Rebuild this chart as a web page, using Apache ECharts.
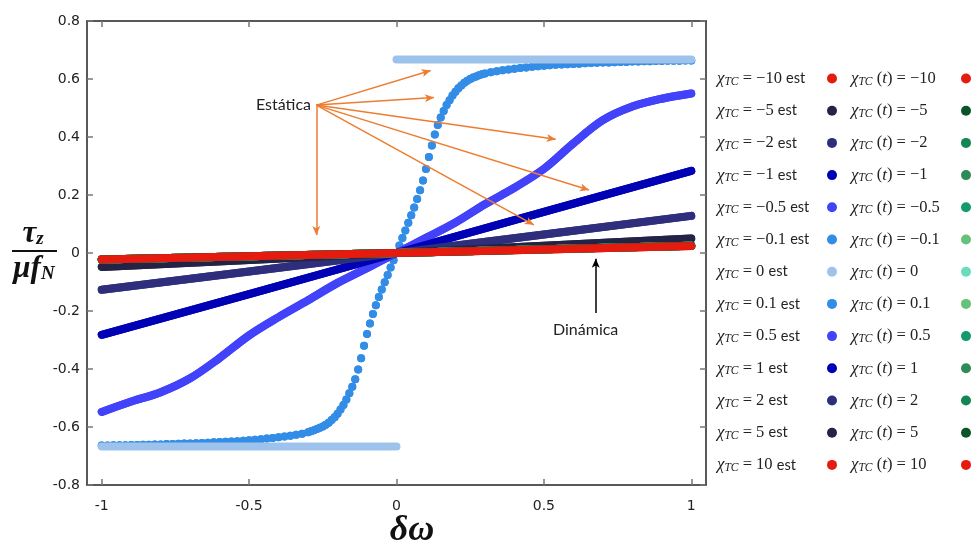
<!DOCTYPE html>
<html>
<head>
<meta charset="utf-8">
<script src="https://cdn.jsdelivr.net/npm/echarts@6/dist/echarts.min.js"></script>
<style>html,body{margin:0;padding:0;background:#fff}#c{width:977px;height:544px}</style>
</head>
<body>
<div id="c"></div>
<script>
// ---- categories / labels ----
const chiLabels = ['−10','−5','−2','−1','−0.5','−0.1','0','0.1','0.5','1','2','5','10'];
const xTicks = [-1, -0.5, 0, 0.5, 1];
const xTickLabels = ['-1', '-0.5', '0', '0.5', '1'];

// ---- chi = ±0.1 (static), dotted curve ----
const x01 = [-1.00,-0.98,-0.96,-0.94,-0.92,-0.90,-0.88,-0.86,-0.84,-0.82,-0.80,-0.78,-0.76,-0.74,-0.72,-0.70,-0.68,-0.66,-0.64,-0.62,-0.60,-0.58,-0.56,-0.54,-0.52,-0.50,-0.48,-0.46,-0.44,-0.42,-0.40,-0.38,-0.36,-0.34,-0.32,
 -0.30,-0.29,-0.28,-0.27,-0.26,-0.25,-0.24,-0.23,-0.22,-0.21,-0.20,-0.19,-0.18,-0.17,-0.16,-0.15,-0.14,-0.13,-0.12,-0.11,-0.10,-0.09,-0.08,-0.07,-0.06,-0.05,-0.04,-0.03,-0.02,-0.01,
 0.00,0.01,0.02,0.03,0.04,0.05,0.06,0.07,0.08,0.09,0.10,0.11,0.12,0.13,0.14,0.15,0.16,0.17,0.18,0.19,0.20,0.21,0.22,0.23,0.24,0.25,0.26,0.27,0.28,0.29,0.30,
 0.32,0.34,0.36,0.38,0.40,0.42,0.44,0.46,0.48,0.50,0.52,0.54,0.56,0.58,0.60,0.62,0.64,0.66,0.68,0.70,0.72,0.74,0.76,0.78,0.80,0.82,0.84,0.86,0.88,0.90,0.92,0.94,0.96,0.98,1.00];
const y01 = [-0.664,-0.664,-0.663,-0.663,-0.663,-0.662,-0.662,-0.661,-0.661,-0.660,-0.660,-0.659,-0.659,-0.658,-0.657,-0.657,-0.656,-0.655,-0.654,-0.653,-0.652,-0.651,-0.650,-0.649,-0.647,-0.646,-0.644,-0.642,-0.640,-0.638,-0.635,-0.633,-0.630,-0.627,-0.623,
 -0.618,-0.615,-0.611,-0.607,-0.603,-0.598,-0.592,-0.585,-0.576,-0.566,-0.554,-0.540,-0.524,-0.505,-0.484,-0.461,-0.435,-0.402,-0.363,-0.320,-0.279,-0.243,-0.210,-0.180,-0.152,-0.126,-0.101,-0.076,-0.050,-0.025,
 0.000,0.026,0.052,0.078,0.104,0.130,0.157,0.186,0.216,0.250,0.290,0.331,0.371,0.409,0.441,0.467,0.490,0.510,0.527,0.543,0.556,0.568,0.578,0.587,0.594,0.600,0.605,0.609,0.613,0.616,0.619,
 0.623,0.627,0.630,0.633,0.635,0.638,0.640,0.642,0.644,0.646,0.647,0.649,0.650,0.651,0.652,0.653,0.654,0.655,0.656,0.657,0.657,0.658,0.659,0.659,0.660,0.660,0.661,0.661,0.662,0.662,0.663,0.663,0.663,0.664,0.664];

// ---- chi = 0 (static) step ----
const x00 = [-1, 0, null, 0, 1];
const y00 = [-0.667, -0.667, null, 0.667, 0.667];

// ---- chi = ±0.5 (static) ----
const x05 = [-1,-0.9,-0.8,-0.7,-0.6,-0.5,-0.4,-0.3,-0.2,-0.1,0,0.1,0.2,0.3,0.4,0.5,0.6,0.7,0.8,0.9,1];
const y05 = [-0.548,-0.512,-0.480,-0.432,-0.362,-0.284,-0.221,-0.163,-0.103,-0.052,0,0.052,0.105,0.168,0.225,0.290,0.378,0.458,0.505,0.532,0.550];

// ---- chi = ±1, ±2, ±5, ±10 (static), dynamic ----
const xLin = [-1, -0.5, 0, 0.5, 1];
const y1 = [-0.282, -0.142, 0, 0.142, 0.283];
const y2 = [-0.127, -0.064, 0, 0.064, 0.128];
const y5 = [-0.048, -0.024, 0, 0.025, 0.050];
const y10 = [-0.022, -0.011, 0, 0.012, 0.024];
const yDyn = [-0.022, -0.011, 0.000, 0.013, 0.025];

const estColors = ['#e61b10','#232347','#2e2e7c','#0000b4','#4242fa','#338de6','#9dc3ec','#338de6','#4242fa','#0000b4','#2e2e7c','#232347','#e61b10'];
const dynColors = ['#e61b10','#0b5428','#138653','#2e8b57','#139a6e','#66c17a','#6adbbd','#66c17a','#139a6e','#2e8b57','#138653','#0b5428','#e61b10'];

const estX = [xLin, xLin, xLin, xLin, x05, x01, x00, x01, x05, xLin, xLin, xLin, xLin];
const estY = [y10, y5, y2, y1, y05, y01, y00, y01, y05, y1, y2, y5, y10];

function pairs(xs, ys) { return xs.map((x, i) => (x === null ? ['-', '-'] : [x, ys[i]])); }

const estNames = chiLabels.map(v => 'χTC = ' + v + ' est');
const dynNames = chiLabels.map(v => 'χTC (t) = ' + v);

const series = [];
estNames.forEach((n, i) => {
  const isDots = estX[i] === x01;
  if (isDots) {
    series.push({ name: n, type: 'scatter', symbol: 'circle', symbolSize: 8, data: pairs(estX[i], estY[i]),
      itemStyle: { color: estColors[i], opacity: 1 }, silent: true });
  } else {
    series.push({ name: n, type: 'line', showSymbol: false, symbol: 'circle', symbolSize: 8,
      smooth: estX[i] === x05 ? 0.35 : false, connectNulls: false,
      data: pairs(estX[i], estY[i]), color: estColors[i],
      lineStyle: { width: 8, cap: 'round', join: 'round', color: estColors[i] },
      itemStyle: { color: estColors[i] }, silent: true });
  }
});
dynNames.forEach((n, i) => {
  series.push({ name: n, type: 'line', showSymbol: false, symbol: 'circle', symbolSize: 8,
    data: pairs(xLin, i === 12 ? y10 : yDyn), color: dynColors[i],
    lineStyle: { width: 8, cap: 'round', join: 'round', color: dynColors[i] },
    itemStyle: { color: dynColors[i] }, silent: true });
});

// annotation arrows (data coordinates)
const arrowFrom = [-0.272, 0.510];
const arrowTo = [[0.116, 0.629], [0.127, 0.536], [0.540, 0.392], [0.653, 0.217], [0.466, 0.097], [-0.272, 0.062]];
const mlData = arrowTo.map(t => [{ coord: arrowFrom }, { coord: t }]);
mlData.push([{ coord: [0.676, -0.207], lineStyle: { color: '#000', width: 1.5 } }, { coord: [0.676, -0.020] }]);
series.push({ name: '__ann', type: 'line', data: [], silent: true,
  markLine: { silent: true, animation: false, symbol: ['none', 'arrow'], symbolSize: [6, 9],
    label: { show: false }, emphasis: { disabled: true },
    lineStyle: { color: '#ed7d31', width: 1.5, type: 'solid' }, data: mlData } });

const serif = '"Liberation Serif", "DejaVu Serif", serif';
const richEst = {
  c: { align: 'left', fontFamily: serif, fontStyle: 'italic', fontSize: 17, lineHeight: 18, color: '#222' },
  s: { align: 'left', fontFamily: serif, fontStyle: 'italic', fontSize: 11.5, lineHeight: 10, verticalAlign: 'bottom', color: '#222' },
  m: { align: 'left', fontFamily: serif, fontSize: 16.5, lineHeight: 18, color: '#222' },
  e: { align: 'left', fontFamily: 'Lato, "Open Sans", sans-serif', fontSize: 14.5, lineHeight: 18, color: '#222' }
};

const commonLegend = {
  orient: 'vertical', align: 'right', icon: 'circle', itemWidth: 10, itemHeight: 10,
  itemGap: 14.7, padding: 0, selectedMode: false, top: 70,
  textStyle: { width: 105, rich: richEst }
};

const option = {
  animation: false,
  backgroundColor: '#fff',
  grid: { left: 87, right: 271, top: 21, bottom: 59, containLabel: false },
  legend: [
    Object.assign({}, commonLegend, { left: 717, data: estNames,
      formatter: n => '{c|χ}{s|TC}{m| = ' + n.replace('χTC = ', '').replace(' est', '') + ' }{e|est}' }),
    Object.assign({}, commonLegend, { left: 851, data: dynNames,
      formatter: n => '{c|χ}{s|TC}{m| (}{c|t}{m|) = ' + n.replace('χTC (t) = ', '') + '}' })
  ],
  xAxis: [
    { type: 'value', min: -1.05, max: 1.05, position: 'bottom',
      axisLine: { onZero: false, lineStyle: { color: '#222', width: 1.5 } },
      axisTick: { inside: true, length: 6, customValues: xTicks, lineStyle: { color: '#777', width: 1.5 } },
      axisLabel: { customValues: xTicks, margin: 14, color: '#222', fontFamily: '"DejaVu Sans", sans-serif', fontSize: 14,
        formatter: v => xTickLabels[xTicks.findIndex(t => Math.abs(t - v) < 1e-9)] },
      splitLine: { show: false } },
    { type: 'value', min: -1.05, max: 1.05, position: 'top',
      axisLine: { onZero: false, lineStyle: { color: '#222', width: 1.5 } },
      axisTick: { inside: true, length: 6, customValues: xTicks, lineStyle: { color: '#777', width: 1.5 } },
      axisLabel: { show: false }, splitLine: { show: false } }
  ],
  yAxis: [
    { type: 'value', min: -0.8, max: 0.8, interval: 0.2, position: 'left',
      axisLine: { onZero: false, lineStyle: { color: '#222', width: 1.5 } },
      axisTick: { inside: true, length: 6, lineStyle: { color: '#777', width: 1.5 } },
      axisLabel: { margin: 7, color: '#222', fontFamily: '"DejaVu Sans", sans-serif', fontSize: 14,
        formatter: v => String(Math.round(v * 10) / 10) },
      splitLine: { show: false } },
    { type: 'value', min: -0.8, max: 0.8, interval: 0.2, position: 'right',
      axisLine: { onZero: false, lineStyle: { color: '#222', width: 1.5 } },
      axisTick: { inside: true, length: 6, lineStyle: { color: '#777', width: 1.5 } },
      axisLabel: { show: false }, splitLine: { show: false } }
  ],
  graphic: [
    { type: 'text', left: 256, top: 97, style: { text: 'Estática', fontFamily: 'Lato, "Open Sans", sans-serif', fontSize: 16, fill: '#222' } },
    { type: 'text', left: 553, top: 322, style: { text: 'Dinámica', fontFamily: 'Lato, "Open Sans", sans-serif', fontSize: 16, fill: '#222' } },
    { type: 'text', x: 33, y: 234, style: { text: '{a|τ}{b|z}', align: 'center', verticalAlign: 'middle',
        rich: { a: { fontFamily: serif, fontStyle: 'italic', fontWeight: 'bold', fontSize: 31, lineHeight: 30, fill: '#111' },
                b: { fontFamily: serif, fontStyle: 'italic', fontWeight: 'bold', fontSize: 19, lineHeight: 19, verticalAlign: 'bottom', fill: '#111' } } } },
    { type: 'line', shape: { x1: 12, y1: 251, x2: 57, y2: 251 }, style: { stroke: '#111', lineWidth: 1.8 } },
    { type: 'text', x: 34, y: 269, style: { text: '{a|μf}{b|N}', align: 'center', verticalAlign: 'middle',
        rich: { a: { fontFamily: serif, fontStyle: 'italic', fontWeight: 'bold', fontSize: 31, lineHeight: 30, fill: '#111' },
                b: { fontFamily: serif, fontStyle: 'italic', fontWeight: 'bold', fontSize: 19, lineHeight: 19, verticalAlign: 'bottom', fill: '#111' } } } },
    { type: 'text', x: 412, y: 531, style: { text: 'δω', align: 'center', verticalAlign: 'middle',
        fontFamily: serif, fontStyle: 'italic', fontWeight: 'bold', fontSize: 36, fill: '#111' } }
  ],
  series: series
};

const chart = echarts.init(document.getElementById('c'), null, { renderer: 'canvas' });
chart.setOption(option);
</script>
</body>
</html>
